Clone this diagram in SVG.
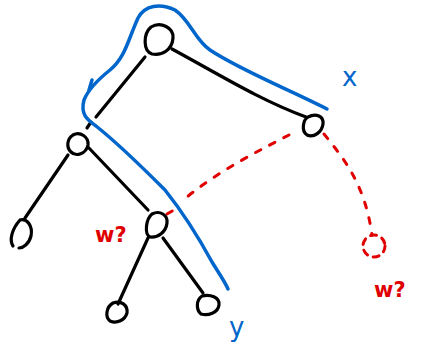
<svg xmlns="http://www.w3.org/2000/svg" width="422" height="352" viewBox="0 0 422 352">
<style>
.n{fill:none;stroke:#000;stroke-width:3.2;stroke-linecap:round;stroke-linejoin:round}
.e{fill:none;stroke:#000;stroke-width:3.2;stroke-linecap:round}
.b{fill:none;stroke:#0066cc;stroke-width:3.5;stroke-linecap:round;stroke-linejoin:round}
.r{fill:none;stroke:#e00000;stroke-width:3;stroke-linecap:round;stroke-dasharray:6 10}
.tb{font-family:"DejaVu Sans",sans-serif;fill:#0066cc;font-size:26px}
.tr{font-family:"DejaVu Sans",sans-serif;fill:#e00000;font-size:21px;font-weight:bold}
</style>
<rect width="422" height="352" fill="#fff"/>
<g id="connectors">
<path class="e" d="M145,57 L96,117"/>
<path class="e" d="M91,122 L87,128"/>
<path class="e" d="M172,49 C220,75 260,100 306,117"/>
<path class="e" d="M68,155 L25,218"/>
<path class="e" d="M88,147 L148,210"/>
<path class="e" d="M148,238 L118,304"/>
<path class="e" d="M163,238 L203,293"/>
<path class="r" d="M289,135 C260,150 220,170 187,197"/>
<path class="r" d="M167,214 L174,210"/>
<path class="r" d="M324,134 C345,160 365,185 372,235"/>
</g>
<g id="highlight">
<path class="b" d="M327,109 C290,90 240,70 210,50 C195,40 190,20 175,10 C160,3 145,5 138,18 C128,40 125,58 110,70 C95,82 88,90 84,100 C80,115 88,120 96,126 C120,145 145,170 165,190 C185,215 200,240 212,262 C220,275 225,282 228,289"/>
<path class="b" d="M92,80 L89,90"/>
</g>
<g id="root"><path class="n" d="M151,27 C161,21 174,28 173,38 C172,50 162,56 152,54 C143,51 143,34 151,27 Z"/></g>
<g id="x"><path class="n" d="M308,117 C316,113 324,116 323,124 C322,132 314,138 307,135 C301,131 303,120 308,117 Z"/></g>
<g id="a"><path class="n" d="M73,135 C80,131 89,137 88,145 C86,154 76,157 71,152 C66,147 67,139 73,135 Z"/></g>
<g id="w"><path class="n" d="M152,214 C160,210 168,215 167,223 C166,232 158,238 150,237 C144,234 146,219 152,214 Z"/></g>
<g id="leaf1"><path class="n" d="M20,220 C27,218 33,226 31,236 C29,244 23,248 19,248 M13,246 C9,240 12,229 20,220"/></g>
<g id="leaf2"><path class="n" d="M113,303 C121,300 128,305 127,313 C125,320 117,324 110,321 C105,317 106,307 113,303 Z"/></g>
<g id="leaf3"><path class="n" d="M202,296 C210,294 220,297 219,305 C218,313 208,316 201,314 C196,310 196,300 202,296 Z"/></g>
<g id="wnode"><circle class="r" cx="374" cy="246" r="11" style="stroke-dasharray:6 6"/></g>
<text class="tb" x="342" y="86">x</text>
<text class="tb" x="229" y="336">y</text>
<text class="tr" x="95" y="242">w?</text>
<text class="tr" x="374" y="297">w?</text>
</svg>
